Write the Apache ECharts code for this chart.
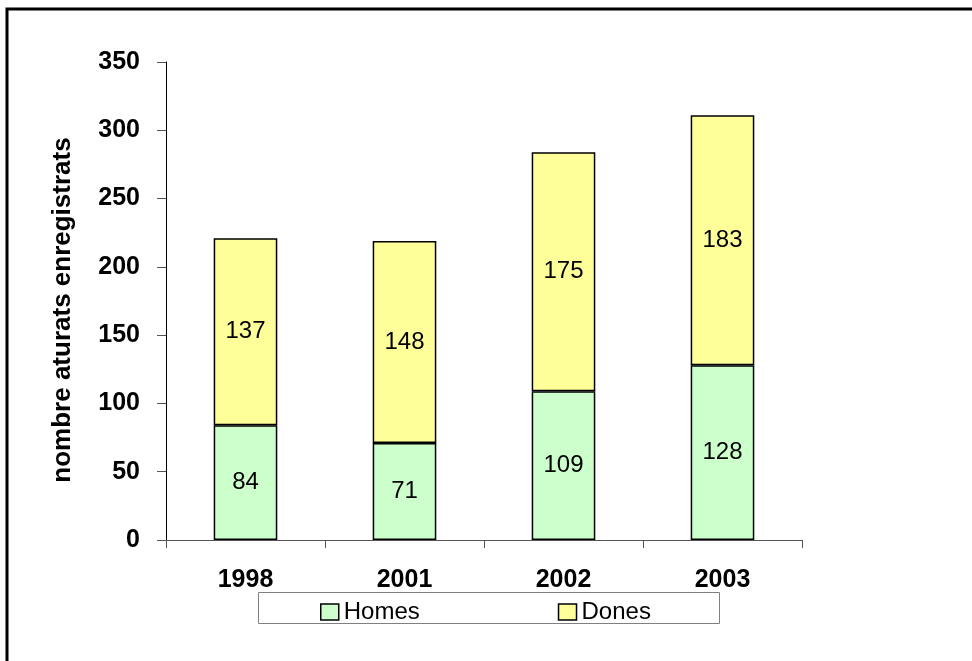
<!DOCTYPE html>
<html>
<head>
<meta charset="utf-8">
<script src="https://cdn.jsdelivr.net/npm/echarts@6/dist/echarts.min.js"></script>
<style>
html,body{margin:0;padding:0;background:#fff;}
#c{width:972px;height:661px;}
</style>
</head>
<body>
<div id="c"></div>
<script>
const categories = ['1998', '2001', '2002', '2003'];
const homes = [84, 71, 109, 128];
const dones = [137, 148, 175, 183];
const yTitle = 'nombre aturats enregistrats';
const seriesNames = ['Homes', 'Dones'];

const FONT = '"Liberation Sans", Arial, sans-serif';
const chart = echarts.init(document.getElementById('c'), null, {renderer: 'canvas'});

const labelCfg = {
  show: true,
  position: 'inside',
  color: '#000',
  fontFamily: FONT,
  fontSize: 24
};

chart.setOption({
  animation: false,
  backgroundColor: '#fff',
  textStyle: {fontFamily: FONT},
  graphic: [
    {type: 'polyline', shape: {points: [[7, 661], [7, 9], [972, 9]]}, style: {stroke: '#000', lineWidth: 3, fill: null}, z: 10},
    {type: 'rect', shape: {x: 258.5, y: 592.5, width: 461, height: 31}, style: {stroke: '#808080', lineWidth: 1, fill: '#fff'}, z: -1}
  ],
  grid: {left: 166, right: 170, top: 62, bottom: 121, containLabel: false},
  legend: {
    left: 320,
    top: 600,
    padding: 0,
    itemGap: 138,
    itemWidth: 18,
    itemHeight: 16,
    icon: 'rect',
    textStyle: {fontFamily: FONT, fontSize: 24, color: '#000'},
    itemStyle: {borderColor: '#000', borderWidth: 1.5},
    data: seriesNames
  },
  xAxis: {
    type: 'category',
    data: categories,
    axisLine: {lineStyle: {color: '#555', width: 1}},
    axisTick: {show: true, length: 8, lineStyle: {color: '#555'}},
    axisLabel: {color: '#000', fontWeight: 'bold', fontSize: 25, fontFamily: FONT, margin: 28}
  },
  yAxis: {
    type: 'value',
    min: 0,
    max: 350,
    interval: 50,
    name: yTitle,
    nameLocation: 'middle',
    nameRotate: 90,
    nameGap: 90,
    nameTextStyle: {color: '#000', fontWeight: 'bold', fontSize: 26, fontFamily: FONT, padding: [0, 18, 0, 0]},
    axisLine: {show: true, lineStyle: {color: '#000', width: 1}},
    axisTick: {show: true, inside: false, length: 9, lineStyle: {color: '#555'}},
    axisLabel: {color: '#000', fontWeight: 'bold', fontSize: 25, fontFamily: FONT, margin: 26},
    splitLine: {show: false}
  },
  series: [
    {
      name: seriesNames[0],
      type: 'bar',
      stack: 'total',
      data: homes,
      barWidth: '40%',
      itemStyle: {color: '#CCFFCC', borderColor: '#000', borderWidth: 1.5},
      label: labelCfg
    },
    {
      name: seriesNames[1],
      type: 'bar',
      stack: 'total',
      data: dones,
      barWidth: '40%',
      itemStyle: {color: '#FFFF99', borderColor: '#000', borderWidth: 1.5},
      label: labelCfg
    }
  ]
});
</script>
</body>
</html>
